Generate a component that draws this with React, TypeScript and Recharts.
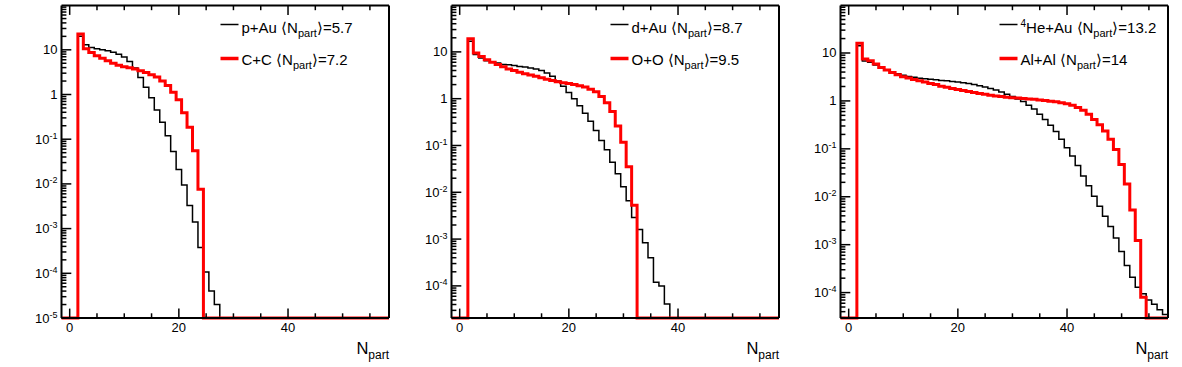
import React from 'react';
import { LineChart, Line, XAxis, YAxis } from 'recharts';

// Histogram bin contents; index = N_part bin centre (0, 1, 2, ...). Missing = empty bin.
const pAu = [0, 0, 20, 13, 11.3, 10.5, 10, 9.5, 8.8, 8.0, 6.9, 5.5, 3.9, 2.4, 1.46, 0.85, 0.45, 0.24, 0.12, 0.053, 0.021, 0.0094, 0.0033, 0.0014, 3.8e-4, 1.07e-4, 4e-5, 2e-5];
const cC = [0, 0, 22.5, 10.5, 8.7, 7.4, 6.5, 5.7, 5.0, 4.5, 4.2, 3.95, 3.7, 3.4, 3.1, 2.75, 2.45, 2.0, 1.6, 1.12, 0.76, 0.39, 0.184, 0.055, 0.0076];
const dAu = [0, 0, 16.9, 8.8, 7.4, 6.5, 6.1, 5.8, 5.4, 5.3, 5.1, 4.9, 4.75, 4.5, 4.3, 4.0, 3.55, 3.0, 2.4, 1.84, 1.36, 1.0, 0.71, 0.49, 0.33, 0.21, 0.128, 0.081, 0.044, 0.025, 0.0132, 0.0066, 0.0029, 0.0016, 8.4e-4, 4e-4, 1.2e-4, 1.0e-4, 4.1e-5];
const oO = [0, 0, 19, 9.5, 8.0, 6.8, 6.0, 5.35, 4.8, 4.3, 4.0, 3.65, 3.4, 3.2, 3.0, 2.8, 2.6, 2.45, 2.3, 2.2, 2.1, 2.0, 1.9, 1.78, 1.6, 1.4, 1.12, 0.82, 0.53, 0.26, 0.118, 0.035, 0.0053];
const heAu = [0, 0, 14.2, 6.8, 6.4, 5.6, 4.9, 4.4, 4.0, 3.7, 3.45, 3.25, 3.1, 2.98, 2.9, 2.82, 2.75, 2.68, 2.62, 2.55, 2.48, 2.4, 2.3, 2.2, 2.08, 1.95, 1.82, 1.68, 1.53, 1.38, 1.23, 1.09, 0.97, 0.81, 0.68, 0.53, 0.41, 0.31, 0.23, 0.158, 0.105, 0.071, 0.045, 0.027, 0.017, 0.0102, 0.0063, 0.0039, 0.0024, 0.00138, 7.2e-4, 3.67e-4, 2.1e-4, 1.3e-4, 9.5e-5, 7e-5, 5.7e-5, 4.4e-5, 3.5e-5];
const alAl = [0, 0, 15.9, 7.5, 6.9, 5.9, 5.0, 4.4, 3.9, 3.5, 3.2, 3.0, 2.8, 2.63, 2.48, 2.3, 2.2, 2.03, 1.93, 1.82, 1.73, 1.65, 1.58, 1.5, 1.43, 1.38, 1.32, 1.27, 1.23, 1.19, 1.17, 1.15, 1.12, 1.1, 1.08, 1.05, 1.02, 0.99, 0.96, 0.92, 0.87, 0.81, 0.73, 0.64, 0.53, 0.41, 0.32, 0.235, 0.158, 0.097, 0.047, 0.0185, 0.0053, 0.00122, 8e-5];

const xMajorTicks = [0, 20, 40];
const xMinorTicks = [5, 10, 15, 25, 30, 35, 45, 50, 55];
const X_DOMAIN: [number, number] = [-1.5, 58.5];
const FIRST_BIN = -1;
const LAST_BIN = 58;

const panels = [
  { black: pAu, red: cC, blackLabel: 'p+Au', redLabel: 'C+C', blackMean: '5.7', redMean: '7.2', yMin: 1e-5, yMax: 98, blackSup: '' },
  { black: dAu, red: oO, blackLabel: 'd+Au', redLabel: 'O+O', blackMean: '8.7', redMean: '9.5', yMin: 2.06e-5, yMax: 98, blackSup: '' },
  { black: heAu, red: alAl, blackLabel: 'He+Au', redLabel: 'Al+Al', blackMean: '13.2', redMean: '14', yMin: 2.95e-5, yMax: 98, blackSup: '4' },
];

const FONT = '"Liberation Sans", Arial, Helvetica, sans-serif';
const W = 390;
const H = 367;
const PL = 61.5;
const PR = 389;
const PT = 5.5;
const PB = 318;

function buildData(black: number[], red: number[], floor: number) {
  const rows: { x: number; black: number; red: number }[] = [];
  const get = (arr: number[], c: number) => {
    const v = c >= 0 && c < arr.length ? arr[c] : 0;
    return v > floor ? v : floor;
  };
  for (let c = FIRST_BIN; c <= LAST_BIN; c++) {
    rows.push({ x: c - 0.5, black: get(black, c), red: get(red, c) });
  }
  rows.push({ x: LAST_BIN + 0.5, black: get(black, LAST_BIN), red: get(red, LAST_BIN) });
  return rows;
}

function logTicks(min: number, max: number) {
  const t: number[] = [];
  for (let e = Math.floor(Math.log10(min)); e <= Math.ceil(Math.log10(max)); e++) {
    for (let m = 1; m <= 9; m++) {
      const v = m * Math.pow(10, e);
      if (v >= min * 0.9999 && v <= max * 1.0001) t.push(v);
    }
  }
  return t;
}

function isDecade(v: number) {
  const e = Math.round(Math.log10(v));
  return Math.abs(v / Math.pow(10, e) - 1) < 1e-6;
}

const LeftTick = (props: any) => {
  const { x, y, payload } = props;
  const v = payload.value as number;
  const major = isDecade(v);
  const len = major ? 9.8 : 4.9;
  if (major) {
    const e = Math.round(Math.log10(v));
    const hasSup = e !== 0 && e !== 1;
    return (
      <g>
        <line x1={x} y1={y} x2={x + len} y2={y} stroke="#000" strokeWidth={1.5} />
        <text x={x - 4} y={y + 4.5} textAnchor="end" fontSize={13} fontFamily={FONT} fill="#000">
          {e === 0 ? '1' : '10'}
          {hasSup && <tspan fontSize={9} dy={-5}>{String(e)}</tspan>}
        </text>
      </g>
    );
  }
  return <line x1={x} y1={y} x2={x + len} y2={y} stroke="#000" strokeWidth={1.5} />;
};

const RightTick = (props: any) => {
  const { x, y, payload } = props;
  const len = isDecade(payload.value) ? 9.8 : 4.9;
  return <line x1={x} y1={y} x2={x - len} y2={y} stroke="#000" strokeWidth={1.5} />;
};

const BottomTick = (props: any) => {
  const { x, y, payload } = props;
  const v = payload.value as number;
  const major = xMajorTicks.includes(v);
  const len = major ? 9.4 : 4.7;
  return (
    <g>
      <line x1={x} y1={y} x2={x} y2={y - len} stroke="#000" strokeWidth={1.5} />
      {major && (
        <text x={x} y={y + 13.5} textAnchor="middle" fontSize={13} fontFamily={FONT} fill="#000">
          {String(v)}
        </text>
      )}
    </g>
  );
};

const TopTick = (props: any) => {
  const { x, y, payload } = props;
  const len = xMajorTicks.includes(payload.value) ? 9.4 : 4.7;
  return <line x1={x} y1={y} x2={x} y2={y + len} stroke="#000" strokeWidth={1.5} />;
};

function Panel({ p, left }: { p: (typeof panels)[number]; left: number }) {
  const data = buildData(p.black, p.red, p.yMin);
  const yTicks = logTicks(p.yMin, p.yMax);
  const xTicks = [...xMajorTicks, ...xMinorTicks].sort((a, b) => a - b);
  const yDomain: [number, number] = [p.yMin, p.yMax];
  const lx = PL + 159;
  return (
    <div style={{ position: 'absolute', left, top: 0, width: W, height: H }}>
      <LineChart width={W} height={H} data={data} margin={{ top: PT - 1, right: W - PR - 1, bottom: H - PB - 1, left: 0 }}>
        <XAxis
          dataKey="x"
          type="number"
          domain={X_DOMAIN}
          ticks={xTicks}
          interval={0}
          height={1}
          tickSize={0}
          tickMargin={0}
          tickLine={false}
          tick={BottomTick}
          axisLine={{ stroke: '#000', strokeWidth: 2 }}
        />
        <XAxis
          xAxisId="top"
          orientation="top"
          dataKey="x"
          type="number"
          domain={X_DOMAIN}
          ticks={xTicks}
          interval={0}
          height={1}
          tickSize={0}
          tickMargin={0}
          tickLine={false}
          tick={TopTick}
          axisLine={{ stroke: '#000', strokeWidth: 2 }}
        />
        <YAxis
          type="number"
          scale="log"
          domain={yDomain}
          ticks={yTicks}
          interval={0}
          width={PL}
          tickSize={0}
          tickMargin={0}
          tickLine={false}
          tick={LeftTick}
          axisLine={{ stroke: '#000', strokeWidth: 2 }}
        />
        <YAxis
          yAxisId="right"
          orientation="right"
          type="number"
          scale="log"
          domain={yDomain}
          ticks={yTicks}
          interval={0}
          width={1}
          tickSize={0}
          tickMargin={0}
          tickLine={false}
          tick={RightTick}
          axisLine={{ stroke: '#000', strokeWidth: 2 }}
        />
        <Line dataKey="black" type="stepAfter" stroke="#000" strokeWidth={1.5} dot={false} activeDot={false} isAnimationActive={false} />
        <Line dataKey="red" type="stepAfter" stroke="#ff0000" strokeWidth={3} dot={false} activeDot={false} isAnimationActive={false} />
      </LineChart>
      <svg width={W} height={H} style={{ position: 'absolute', left: 0, top: 0, pointerEvents: 'none' }}>
        <line x1={lx} y1={24.5} x2={lx + 18} y2={24.5} stroke="#000" strokeWidth={1.5} />
        <text x={lx + 21} y={33} fontSize={15} fontFamily={FONT} fill="#000">
          {p.blackSup && <tspan fontSize={10} dy={-6}>{p.blackSup}</tspan>}
          <tspan dy={p.blackSup ? 6 : 0}>{p.blackLabel} ⟨N</tspan>
          <tspan fontSize={11} dy={4}>part</tspan>
          <tspan dy={-4}>⟩={p.blackMean}</tspan>
        </text>
        <line x1={lx} y1={58.5} x2={lx + 18} y2={58.5} stroke="#ff0000" strokeWidth={3.5} />
        <text x={lx + 21} y={65} fontSize={15} fontFamily={FONT} fill="#000">
          {p.redLabel} ⟨N<tspan fontSize={11} dy={4}>part</tspan>
          <tspan dy={-4}>⟩={p.redMean}</tspan>
        </text>
        <text x={PR} y={354} textAnchor="end" fontSize={16.5} fontFamily={FONT} fill="#000">
          N<tspan fontSize={12} dy={5}>part</tspan>
        </text>
      </svg>
    </div>
  );
}

export default function App() {
  return (
    <div style={{ position: 'absolute', left: 0, top: 0, width: 1182, height: 367, background: '#fff' }}>
      <Panel p={panels[0]} left={0} />
      <Panel p={panels[1]} left={390} />
      <Panel p={panels[2]} left={779} />
    </div>
  );
}
